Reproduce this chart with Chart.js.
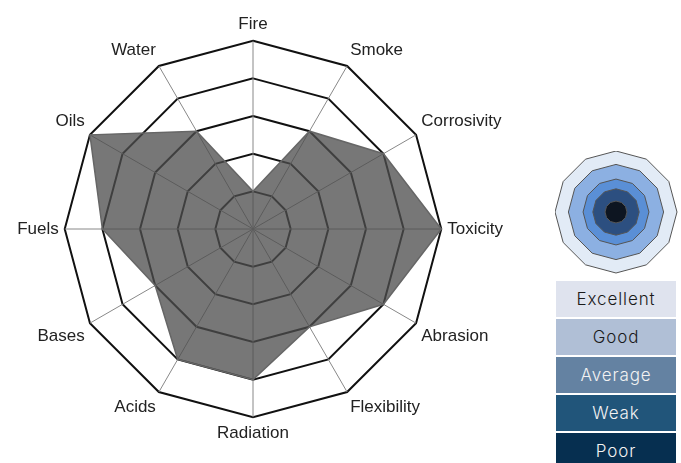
<!DOCTYPE html>
<html>
<head>
<meta charset="utf-8">
<script src="https://cdn.jsdelivr.net/npm/chart.js@4"></script>
<style>
  body { margin: 0; background: #fff; width: 681px; height: 463px; overflow: hidden; position: relative; }
  #wrap_radar { position: absolute; left: 8px; top: 0; width: 505px; height: 463px; }
  #wrap_icon { position: absolute; left: 555px; top: 151px; width: 123px; height: 123px; }
  #legenda { position: absolute; left: 556px; top: 281px; width: 120px; }
  .caixa { height: 36px; margin-bottom: 2px; text-align: center;
           font: 300 17px 'Inter', sans-serif; line-height: 36px; letter-spacing: 0.9px; }
</style>
</head>
<body>
<div id="wrap_radar"><canvas id="radar"></canvas></div>
<div id="wrap_icon"><canvas id="icone"></canvas></div>
<div id="legenda"></div>
<script>
// dados do grafico
var categorias = ["Fire", "Smoke", "Corrosivity", "Toxicity", "Abrasion", "Flexibility",
                  "Radiation", "Acids", "Bases", "Fuels", "Oils", "Water"];
var notas = [1, 3, 4, 5, 4, 3, 4, 4, 3, 4, 5, 3];
var escalaMax = 5;

// legenda (do centro para fora no icone)
var niveis = ["Excellent", "Good", "Average", "Weak", "Poor"];
var niveisIcone = [0.9, 1.9, 2.7, 3.9, 5];

var coresCaixa = ["#dfe3ee", "#b0bfd6", "#6482a2", "#21557a", "#062f50"];
var coresTexto = ["#1a1a1a", "#1a1a1a", "#f2f2f2", "#f2f2f2", "#f2f2f2"];
var coresIcone = ["#0d1521", "#2c4f80", "#5a8fd6", "#8cb0e2", "#e2ebf6"];

Chart.defaults.font.family = "'Liberation Sans', Arial, sans-serif";

new Chart(document.getElementById("radar"), {
  type: "radar",
  data: {
    labels: categorias,
    datasets: [{
      data: notas,
      backgroundColor: "rgba(78,78,78,0.77)",
      borderColor: "#666",
      borderWidth: 1.5,
      pointRadius: 0,
      fill: true
    }]
  },
  options: {
    responsive: true,
    maintainAspectRatio: false,
    animation: false,
    layout: { padding: { left: 3, right: 3, top: 6, bottom: 10 } },
    plugins: { legend: { display: false }, tooltip: { enabled: false } },
    scales: {
      r: {
        min: 0,
        max: escalaMax,
        ticks: { display: false, stepSize: 1 },
        grid: { color: "#111", lineWidth: 2 },
        angleLines: { color: "#888", lineWidth: 1 },
        pointLabels: { color: "#222", font: { size: 17 }, padding: 6 }
      }
    }
  }
});

// icone da legenda: um dataset por nivel, o de dentro por cima
var dsIcone = [];
for (var i = 0; i < niveisIcone.length; i++) {
  var v = [];
  for (var j = 0; j < categorias.length; j++) v.push(niveisIcone[i]);
  dsIcone.push({
    data: v,
    backgroundColor: coresIcone[i],
    borderColor: "#555",
    borderWidth: 1,
    pointRadius: 0,
    fill: true
  });
}

new Chart(document.getElementById("icone"), {
  type: "radar",
  data: { labels: categorias, datasets: dsIcone },
  options: {
    responsive: true,
    maintainAspectRatio: false,
    animation: false,
    layout: { padding: 0 },
    plugins: { legend: { display: false }, tooltip: { enabled: false } },
    scales: {
      r: {
        min: 0,
        max: escalaMax,
        ticks: { display: false },
        grid: { display: false },
        angleLines: { color: "rgba(255,255,255,0.35)", lineWidth: 1 },
        pointLabels: { display: false }
      }
    },
    elements: { line: { tension: 0 } }
  }
});

var leg = document.getElementById("legenda");
for (var k = 0; k < niveis.length; k++) {
  leg.innerHTML += `<div class="caixa" style="background:${coresCaixa[k]};color:${coresTexto[k]}">${niveis[k]}</div>`;
}
</script>
</body>
</html>
